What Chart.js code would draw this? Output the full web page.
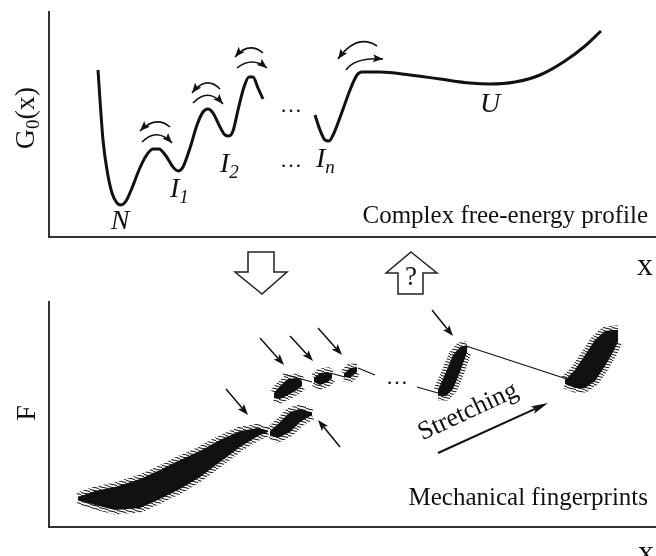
<!DOCTYPE html>
<html>
<head>
<meta charset="utf-8">
<script src="https://cdn.jsdelivr.net/npm/chart.js@4.4.0/dist/chart.umd.min.js"></script>
<style>
body { margin: 0; background: #fff; }
#wrap { position: relative; width: 656px; height: 556px; overflow: hidden; }
canvas { position: absolute; left: 0; }
#top { top: 0; }
#bottom { top: 300px; }
</style>
</head>
<body>
<div id="wrap">
<canvas id="top" width="656" height="300"></canvas>
<canvas id="bottom" width="656" height="256"></canvas>
</div>
<script>
// free-energy profile G0(x), arbitrary units (null = break in the drawing)
var energyX = [49,51,54,58,63,68,72,77,83,90,97,104,110,117,124,129,134,141,148,154,159,164,171,176,180,184,189,195,200,204,209,214,240,266,271,276,280,285,293,301,308,313,331,361,391,421,441,466,491,516,536,552];
var energyG = [167,137,97,67,44,34,32,36,49,67,81,88,88,81,70,66,70,89,112,125,128,124,110,102,101,106,127,150,160,160,149,138,null,122,107,97,96,104,125,147,162,165,165,162,158,154,153,155,162,176,191,206];
var stateNames = ['N', 'I', 'I', 'I', 'U'];
var stateSubs = ['', '1', '2', 'n', ''];

// force traces: upper / lower edge of each noisy segment
var trace1X = [29,46,66,91,111,131,151,171,191,209,219];
var trace1Hi = [30,36,40,48,57,67,76,87,96,99,96];
var trace1Lo = [27,22,17,19,28,38,50,65,80,91,95];
var trace2X = [221,229,241,251,263];
var trace2Hi = [96,103,115,118,114];
var trace2Lo = [92,89,95,105,112];
var trace3X = [225,231,239,248,253];
var trace3Hi = [134,141,148,149,146];
var trace3Lo = [129,128,132,137,141];
var trace4X = [265,271,279,283];
var trace4Hi = [149,154,155,153];
var trace4Lo = [145,142,145,149];
var trace5X = [295,301,308];
var trace5Hi = [153,159,159];
var trace5Lo = [150,149,155];
var traceNX = [389,397,404,411,418];
var traceNHi = [137,155,172,180,182];
var traceNLo = [131,131,138,155,175];
var traceUX = [516,526,536,546,556,563,569];
var traceUHi = [147,157,172,187,196,197,197];
var traceULo = [143,139,139,146,161,173,185];
// thin drops between segments
var linkX = [234,263,270,281,296,300,309,326,340,368,389,400,417,524];
var linkF = [153,145,null,154,150,null,159,152,null,140,134,null,181,146];

var serif = '"Liberation Serif", "DejaVu Serif", serif';

function pts(xs, ys) {
    var out = [];
    for (var i = 0; i < xs.length; i++) out.push({x: xs[i], y: ys[i]});
    return out;
}

function P(chart, x, y) {
    return [chart.scales.x.getPixelForValue(x), chart.scales.y.getPixelForValue(y)];
}

function head(ctx, x, y, ang, len, wid) {
    ctx.save();
    ctx.translate(x, y);
    ctx.rotate(ang);
    ctx.beginPath();
    ctx.moveTo(0, 0);
    ctx.lineTo(-len, -wid / 2);
    ctx.lineTo(-len * 0.8, 0);
    ctx.lineTo(-len, wid / 2);
    ctx.closePath();
    ctx.fill();
    ctx.restore();
}

function arrow(chart, a, lw, len, wid) {
    var ctx = chart.ctx;
    var s = P(chart, a[0], a[1]), e = P(chart, a[2], a[3]);
    var ang = Math.atan2(e[1] - s[1], e[0] - s[0]);
    ctx.lineWidth = lw;
    ctx.beginPath();
    ctx.moveTo(s[0], s[1]);
    ctx.lineTo(e[0] - Math.cos(ang) * len * 0.8, e[1] - Math.sin(ang) * len * 0.8);
    ctx.stroke();
    head(ctx, e[0], e[1], ang, len, wid);
}

function rich(ctx, x, y, parts, align) {
    var w = 0;
    parts.forEach(function(p) { ctx.font = p[1]; w += ctx.measureText(p[0]).width; });
    var cx = align === 'center' ? x - w / 2 : x;
    ctx.textAlign = 'left';
    parts.forEach(function(p) {
        ctx.font = p[1];
        ctx.fillText(p[0], cx, y + (p[2] || 0));
        cx += ctx.measureText(p[0]).width;
    });
}

// curved exchange arrows over the barriers: start, control, end
var swaps = [
    [121,110,107,122,91,106], [93,95,108,110,123,94],
    [171,148,157,162,143,144], [144,134,159,150,174,133],
    [214,184,200,196,186,180], [188,169,203,181,218,169],
    [328,191,308,204,289,178], [297,167,306,180,334,178]
];
var labelPos = [[71,8,'center'], [121,40,'left'], [171,65,'left'], [267,70,'left'], [441,125,'center']];

var topDeco = {
    id: 'topDeco',
    afterDraw: function(chart) {
        var ctx = chart.ctx;
        ctx.save();
        ctx.fillStyle = '#111';
        ctx.strokeStyle = '#111';
        // curved arrows
        swaps.forEach(function(s) {
            var a = P(chart, s[0], s[1]), c = P(chart, s[2], s[3]), e = P(chart, s[4], s[5]);
            ctx.lineWidth = 1.6;
            ctx.beginPath();
            ctx.moveTo(a[0], a[1]);
            ctx.quadraticCurveTo(c[0], c[1], e[0], e[1]);
            ctx.stroke();
            head(ctx, e[0], e[1], Math.atan2(e[1] - c[1], e[0] - c[0]), 10, 8);
        });
        // state labels
        ctx.textBaseline = 'alphabetic';
        labelPos.forEach(function(l, i) {
            var p = P(chart, l[0], l[1]);
            var parts = [[stateNames[i], 'italic 28px ' + serif]];
            if (stateSubs[i]) parts.push([stateSubs[i], 'italic 19px ' + serif, 6]);
            rich(ctx, p[0], p[1], parts, l[2]);
        });
        ctx.font = '22px ' + serif;
        ctx.textAlign = 'center';
        ctx.textBaseline = 'middle';
        var d1 = P(chart, 242, 131), d2 = P(chart, 242, 76);
        ctx.fillText('\u2026', d1[0], d1[1]);
        ctx.fillText('\u2026', d2[0], d2[1]);
        // caption, axis labels
        ctx.textBaseline = 'alphabetic';
        ctx.textAlign = 'right';
        ctx.font = '25px ' + serif;
        var t = P(chart, 599, 14);
        ctx.fillText('Complex free-energy profile', t[0], t[1]);
        ctx.textAlign = 'center';
        ctx.font = '32px ' + serif;
        var xl = P(chart, 596, -38);
        ctx.fillText('x', xl[0], xl[1]);
        var yl = P(chart, -15, 119);
        ctx.save();
        ctx.translate(yl[0], yl[1]);
        ctx.rotate(-Math.PI / 2);
        rich(ctx, 0, 0, [['G', '28px ' + serif], ['0', '19px ' + serif, 5], ['(x)', '28px ' + serif]], 'center');
        ctx.restore();
        // block arrows between the panels
        ctx.lineWidth = 1.5;
        ctx.strokeStyle = '#222';
        ctx.fillStyle = '#fff';
        var down = [[199,-15],[225,-15],[225,-35],[238,-35],[213,-57],[186,-35],[199,-35]];
        var up = [[362,-15],[388,-36],[374,-36],[374,-57],[349,-57],[349,-36],[337,-36]];
        [down, up].forEach(function(shape) {
            ctx.beginPath();
            shape.forEach(function(v, i) {
                var p = P(chart, v[0], v[1]);
                if (i === 0) ctx.moveTo(p[0], p[1]); else ctx.lineTo(p[0], p[1]);
            });
            ctx.closePath();
            ctx.fill();
            ctx.stroke();
        });
        ctx.fillStyle = '#111';
        ctx.font = '27px ' + serif;
        ctx.textBaseline = 'middle';
        var q = P(chart, 362, -41);
        ctx.fillText('?', q[0], q[1]);
        ctx.restore();
    }
};

// pointer arrows at the unfolding events
var pointers = [[177,138,199,112],[211,189,235,162],[241,191,264,166],[269,199,293,172],[291,80,269,107],[383,217,404,191]];
var stretchArrow = [389,74,499,124];

var bottomDeco = {
    id: 'bottomDeco',
    afterDraw: function(chart) {
        var ctx = chart.ctx;
        ctx.save();
        ctx.fillStyle = '#111';
        ctx.strokeStyle = '#111';
        pointers.forEach(function(a) { arrow(chart, a, 1.5, 11, 8); });
        arrow(chart, stretchArrow, 2, 17, 8);
        var s = P(chart, 422, 109);
        ctx.save();
        ctx.translate(s[0], s[1]);
        ctx.rotate(-25 * Math.PI / 180);
        ctx.font = '26px ' + serif;
        ctx.textAlign = 'center';
        ctx.textBaseline = 'alphabetic';
        ctx.fillText('Stretching', 0, 0);
        ctx.restore();
        ctx.font = '22px ' + serif;
        ctx.textAlign = 'center';
        ctx.textBaseline = 'middle';
        var d = P(chart, 348, 149);
        ctx.fillText('\u2026', d[0], d[1]);
        ctx.textBaseline = 'alphabetic';
        ctx.textAlign = 'right';
        ctx.font = '25px ' + serif;
        var t = P(chart, 599, 22);
        ctx.fillText('Mechanical fingerprints', t[0], t[1]);
        ctx.textAlign = 'center';
        ctx.font = '32px ' + serif;
        var xl = P(chart, 597, -35);
        ctx.fillText('x', xl[0], xl[1]);
        var yl = P(chart, -14, 114);
        ctx.translate(yl[0], yl[1]);
        ctx.rotate(-Math.PI / 2);
        ctx.font = '28px ' + serif;
        ctx.fillText('F', 0, 0);
        ctx.restore();
    }
};

function axis(max) {
    return {
        type: 'linear', min: 0, max: max,
        grid: {display: false, drawTicks: false},
        ticks: {display: false},
        border: {display: true, color: '#333', width: 2}
    };
}

function options(pad) {
    return {
        responsive: false,
        animation: false,
        layout: {padding: pad},
        elements: {point: {radius: 0}},
        plugins: {legend: {display: false}, tooltip: {enabled: false}},
        scales: {x: axis(607), y: axis(225)}
    };
}

new Chart(document.getElementById('top'), {
    type: 'scatter',
    data: {
        datasets: [{
            data: pts(energyX, energyG),
            showLine: true,
            borderColor: '#111',
            borderWidth: 3,
            cubicInterpolationMode: 'monotone',
            spanGaps: false
        }]
    },
    options: options({left: 49, top: 12, right: 0, bottom: 63}),
    plugins: [topDeco]
});

// streaky texture for the edges of the noisy segments
var tile = document.createElement('canvas');
tile.width = 9;
tile.height = 3;
var tc = tile.getContext('2d');
tc.strokeStyle = '#111';
tc.lineWidth = 1.1;
tc.beginPath();
tc.moveTo(-1, 0.3);
tc.lineTo(10, 2.7);
tc.stroke();
var streaks = document.getElementById('bottom').getContext('2d').createPattern(tile, 'repeat');

var bands = [
    [trace1X, trace1Hi, trace1Lo], [trace2X, trace2Hi, trace2Lo], [trace3X, trace3Hi, trace3Lo],
    [trace4X, trace4Hi, trace4Lo], [trace5X, trace5Hi, trace5Lo], [traceNX, traceNHi, traceNLo],
    [traceUX, traceUHi, traceULo]
];
var forceSets = [];
bands.forEach(function(b) {
    forceSets.push({data: pts(b[0], b[1]), showLine: true, borderColor: streaks, borderWidth: 9, fill: false});
    forceSets.push({data: pts(b[0], b[2]), showLine: true, borderColor: streaks, borderWidth: 9, fill: '-1', backgroundColor: '#111'});
});
forceSets.push({data: pts(linkX, linkF), showLine: true, borderColor: '#111', borderWidth: 1.2, spanGaps: false});

new Chart(document.getElementById('bottom'), {
    type: 'scatter',
    data: {datasets: forceSets},
    options: options({left: 49, top: 2, right: 0, bottom: 29}),
    plugins: [bottomDeco]
});
</script>
</body>
</html>
